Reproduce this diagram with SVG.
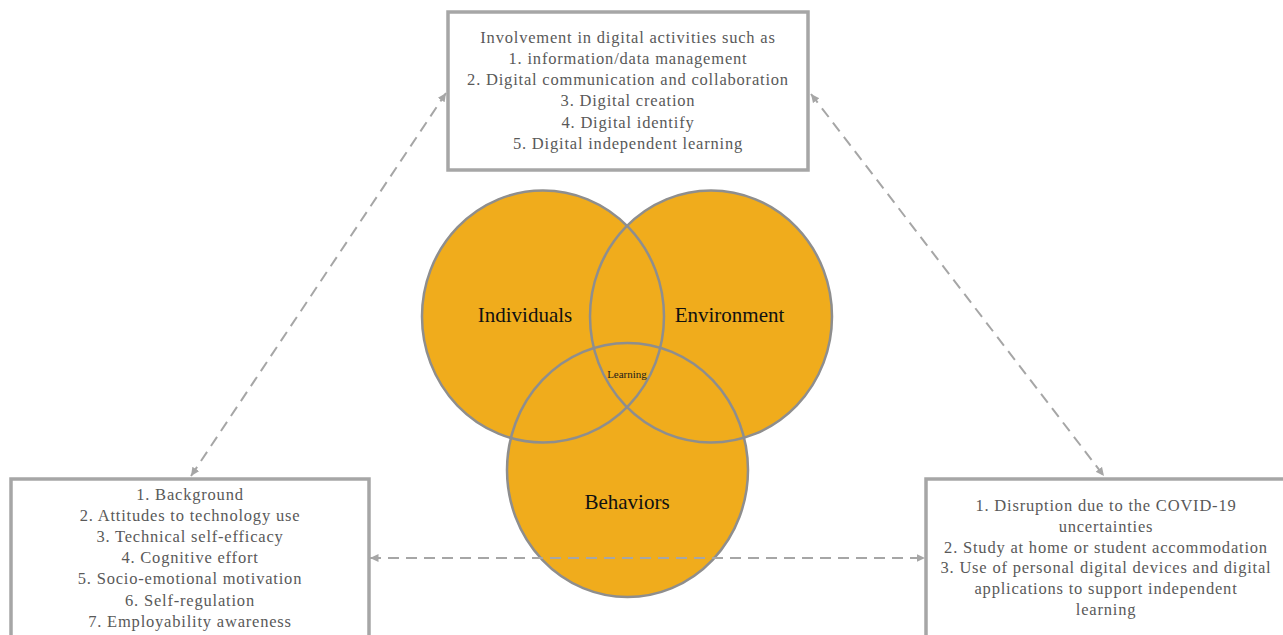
<svg xmlns="http://www.w3.org/2000/svg" width="1283" height="635" viewBox="0 0 1283 635">
<style>
.box{fill:#ffffff;stroke:#A6A6A6;stroke-width:3.5}
.bt{font-family:"Liberation Serif","Times New Roman",serif;font-size:16.5px;letter-spacing:0.8px;fill:#595959;text-anchor:middle}
.cf{fill:#F0AC1C;stroke:none}
.co{fill:none;stroke:#8E8E8E;stroke-width:2.5}
.ct{font-family:"Liberation Serif","Times New Roman",serif;font-size:21px;fill:#111111;text-anchor:middle}
.lt{font-family:"Liberation Serif","Times New Roman",serif;font-size:11px;fill:#1a1a1a;text-anchor:middle}
.conn{fill:none;stroke:#A6A6A6;stroke-width:2;stroke-dasharray:11 7;marker-start:url(#ah);marker-end:url(#ah)}
</style>
<defs>
<marker id="ah" markerUnits="userSpaceOnUse" markerWidth="10" markerHeight="9" refX="8.5" refY="4" orient="auto-start-reverse">
<path d="M0,0 L8.5,4 L0,8 Z" fill="#A6A6A6"/>
</marker>
</defs>
<rect width="1283" height="635" fill="#ffffff"/>
<g id="node-top">
<rect class="box" x="448" y="12" width="360" height="158"/>
<text class="bt" x="628" y="42.5">Involvement in digital activities such as</text>
<text class="bt" x="628" y="63.8">1. information/data management</text>
<text class="bt" x="628" y="85.1">2. Digital communication and collaboration</text>
<text class="bt" x="628" y="106.4">3. Digital creation</text>
<text class="bt" x="628" y="127.7">4. Digital identify</text>
<text class="bt" x="628" y="149">5. Digital independent learning</text>
</g>
<g id="node-individuals">
<ellipse class="cf" cx="543" cy="316.5" rx="121" ry="126"/>
</g>
<g id="node-environment">
<ellipse class="cf" cx="711" cy="316.5" rx="121" ry="126"/>
</g>
<g id="node-behaviors">
<ellipse class="cf" cx="627.5" cy="470" rx="120.5" ry="127"/>
</g>
<g id="venn-outlines">
<ellipse class="co" cx="543" cy="316.5" rx="121" ry="126"/>
<ellipse class="co" cx="711" cy="316.5" rx="121" ry="126"/>
<ellipse class="co" cx="627.5" cy="470" rx="120.5" ry="127"/>
</g>
<g id="venn-labels">
<text class="ct" x="525" y="321.7">Individuals</text>
<text class="ct" x="729.5" y="321.7">Environment</text>
<text class="ct" x="627" y="509">Behaviors</text>
<text class="lt" x="627" y="378">Learning</text>
</g>
<g id="node-left">
<rect class="box" x="11" y="479" width="358" height="170"/>
<text class="bt" x="190" y="499.5">1. Background</text>
<text class="bt" x="190" y="520.7">2. Attitudes to technology use</text>
<text class="bt" x="190" y="541.9">3. Technical self-efficacy</text>
<text class="bt" x="190" y="563.1">4. Cognitive effort</text>
<text class="bt" x="190" y="584.3">5. Socio-emotional motivation</text>
<text class="bt" x="190" y="605.5">6. Self-regulation</text>
<text class="bt" x="190" y="626.7">7. Employability awareness</text>
</g>
<g id="node-right">
<rect class="box" x="926" y="479" width="380" height="170"/>
<text class="bt" x="1106" y="510.7">1. Disruption due to the COVID-19</text>
<text class="bt" x="1106" y="531.6">uncertainties</text>
<text class="bt" x="1106" y="552.5">2. Study at home or student accommodation</text>
<text class="bt" x="1106" y="573.4">3. Use of personal digital devices and digital</text>
<text class="bt" x="1106" y="594.3">applications to support independent</text>
<text class="bt" x="1106" y="615.2">learning</text>
</g>
<g id="connectors">
<line class="conn" x1="191" y1="476" x2="446" y2="93"/>
<line class="conn" x1="811" y1="94" x2="1104" y2="476"/>
<line class="conn" x1="370" y1="558" x2="925" y2="558"/>
</g>
</svg>
